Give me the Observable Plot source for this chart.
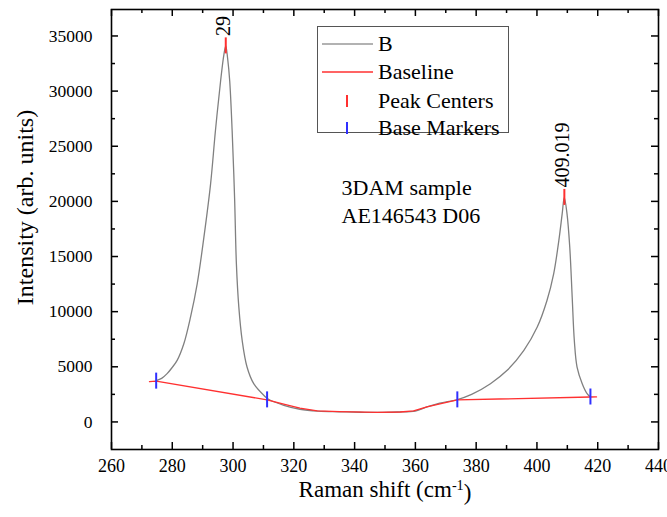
<!DOCTYPE html>
<html><head><meta charset="utf-8">
<script src="https://cdn.jsdelivr.net/npm/d3@7"></script>
<script src="https://cdn.jsdelivr.net/npm/@observablehq/plot@0.6"></script>
<style>
body{margin:0;background:#fff;}
#wrap{position:relative;width:667px;height:517px;font-family:"Liberation Serif","Times New Roman",Times,"Nimbus Roman","FreeSerif","Noto Serif","DejaVu Serif",serif;}
#wrap svg text{font-family:"Liberation Serif","Times New Roman",Times,"Nimbus Roman","FreeSerif","Noto Serif","DejaVu Serif",serif;}
.legend{position:absolute;left:317px;top:26px;width:192px;height:107px;border:1px solid #555;background:#fff;box-sizing:border-box;}
.row{position:absolute;left:0;height:28px;width:190px;font-size:22px;color:#000;}
.row svg{position:absolute;left:3px;top:0;}
.row span{position:absolute;left:60px;top:0;line-height:28px;white-space:nowrap;}
</style>
</head><body>
<div id="wrap"></div>
<script>
// Spectrum B
const bX = [274.7,276.5,278.3,280.0,281.6,283.8,286.0,288.2,290.4,292.6,294.2,295.9,297.0,297.6,298.2,298.9,299.7,300.5,301.1,301.9,303.0,304.6,306.8,310.1,311.8,316.7,322,328,335,342,348,354,360,363.8,368,373.8,378.5,384.7,390.2,395.7,400.1,403.3,405.5,407.2,408.3,409.0,409.9,410.8,411.6,412.3,413.2,414.9,416.5,417.6];
const bY = [3750,3950,4380,4950,5580,7090,9500,12520,16740,21570,26400,30920,33340,34100,33000,30920,26400,20360,14330,10410,7390,4980,3470,2420,2030,1510,1150,980,920,880,860,900,980,1360,1700,2030,2500,3470,4680,6490,8600,11010,13430,16440,18860,20360,18860,15840,11310,7390,4980,3470,2570,2260];
// Baseline
const baseX = [272.5,274.7,311.2,317,322,327.7,335,347.4,355,359.4,363.8,373.8,417.6,419.6];
const baseY = [3650,3700,2000,1600,1250,1000,930,860,900,1000,1360,2000,2260,2270];
// Peak centers
const peakX = [297.6,409.019];
const peakY = [34100,20360];
const peakLabels = ["29","409.019"];
// Base markers
const markX = [274.7,311.2,373.8,417.6];
const markY = [3700,2000,2000,2260];
// Ticks
const xMajor = [260,280,300,320,340,360,380,400,420,440];
const xMinor = [270,290,310,330,350,370,390,410,430];
const yMajor = [0,5000,10000,15000,20000,25000,30000,35000];
const yMinor = [2500,7500,12500,17500,22500,27500,32500];
const xDomain = [260,440];
const yDomain = [-2500,37400];
const xTitle = "Raman shift (cm-1)";
const yTitle = "Intensity (arb. units)";
const noteLines = ["3DAM sample","AE146543 D06"];
const noteX = [335.7];
const noteY = [18000];
const legendLabels = ["B","Baseline","Peak Centers","Base Markers"];
const legendKinds = ["line","line","tick","tick"];
const legendColors = ["#999999","#ff3030","#ff3030","#3030ff"];

const B = bX.map((x,i)=>({x,y:bY[i]}));
const base = baseX.map((x,i)=>({x,y:baseY[i]}));
const peaks = peakX.map((x,i)=>({x,y:peakY[i],label:peakLabels[i]}));
const marks = markX.map((x,i)=>({x,y:markY[i]}));

const W=667,H=517,mL=111,mR=9,mT=9,mB=68;
const fw=W-mL-mR, fh=H-mT-mB;
const FONT='"Liberation Serif", "Times New Roman", Times, "Nimbus Roman", FreeSerif, "Noto Serif", "DejaVu Serif", serif';

const plot = Plot.plot({
  width:W,height:H,marginLeft:mL,marginRight:mR,marginTop:mT,marginBottom:mB,
  style:{fontFamily:FONT,fontSize:"18px",color:"#000",background:"#fff",overflow:"visible"},
  x:{domain:xDomain},
  y:{domain:yDomain},
  marks:[
    Plot.line(B,{x:"x",y:"y",stroke:"#808080",strokeWidth:1.3,curve:"catmull-rom"}),
    Plot.line(base,{x:"x",y:"y",stroke:"#ff3030",strokeWidth:1.3}),
    Plot.ruleX(peaks,{x:"x",y1:"y",y2:"y",insetTop:-8,insetBottom:-8,stroke:"#ff3030",strokeWidth:2}),
    Plot.ruleX(marks,{x:"x",y1:"y",y2:"y",insetTop:-8,insetBottom:-8,stroke:"#3030ff",strokeWidth:2}),
    Plot.text(peaks,{x:"x",y:"y",text:"label",rotate:-90,textAnchor:"start",lineAnchor:"middle",dy:-10,dx:-2,fontSize:20,fill:"#000"}),
    Plot.text([noteLines.join("\n")],{x:noteX,y:noteY,text:d=>d,textAnchor:"start",lineAnchor:"bottom",lineHeight:1.27,fontSize:22,fill:"#000"}),
    Plot.ruleX(xMajor,{x:d=>d,insetTop:fh-7,stroke:"#000",strokeWidth:1.5}),
    Plot.ruleX(xMajor,{x:d=>d,insetBottom:fh-7,stroke:"#000",strokeWidth:1.5}),
    Plot.ruleX(xMinor,{x:d=>d,insetTop:fh-4,stroke:"#000",strokeWidth:1.5}),
    Plot.ruleX(xMinor,{x:d=>d,insetBottom:fh-4,stroke:"#000",strokeWidth:1.5}),
    Plot.ruleY(yMajor,{y:d=>d,insetRight:fw-7,stroke:"#000",strokeWidth:1.5}),
    Plot.ruleY(yMajor,{y:d=>d,insetLeft:fw-7,stroke:"#000",strokeWidth:1.5}),
    Plot.ruleY(yMinor,{y:d=>d,insetRight:fw-4,stroke:"#000",strokeWidth:1.5}),
    Plot.ruleY(yMinor,{y:d=>d,insetLeft:fw-4,stroke:"#000",strokeWidth:1.5}),
    Plot.frame({stroke:"#000",strokeWidth:1.6}),
    Plot.axisX({ticks:xMajor,tickSize:0,tickPadding:10,fontSize:18,label:null,tickFormat:d=>String(d)}),
    Plot.axisY({ticks:yMajor,tickSize:0,tickPadding:19,fontSize:17.5,label:null,tickFormat:d=>String(d)}),
    Plot.text([yTitle],{frameAnchor:"left",rotate:-90,textAnchor:"middle",dx:-86,dy:-22,fontSize:24,fill:"#000",text:d=>d}),
    Plot.text([xTitle],{frameAnchor:"bottom",dy:47,fontSize:23,fill:"#000",text:d=>d})
  ]
});
const wrap=document.getElementById("wrap");
wrap.appendChild(plot);
// superscript for the x title
d3.select(plot).selectAll("text").filter(function(){return this.textContent===xTitle;}).each(function(){
  const t=d3.select(this); t.text(null);
  t.append("tspan").text("Raman shift (cm");
  t.append("tspan").attr("dy","-0.45em").attr("font-size","0.62em").text("-1");
  t.append("tspan").attr("dy","0.45em").text(")");
});
// legend
const lg=document.createElement("div"); lg.className="legend"; wrap.appendChild(lg);
const centers=[17,45,74,101];
legendLabels.forEach((lab,i)=>{
  const r=document.createElement("div"); r.className="row"; r.style.top=(centers[i]-14)+"px";
  const svg=d3.create("svg").attr("width",53).attr("height",28);
  if(legendKinds[i]==="line") svg.append("line").attr("x1",1).attr("x2",52).attr("y1",14).attr("y2",14).attr("stroke",legendColors[i]).attr("stroke-width",1.5);
  else svg.append("line").attr("x1",26).attr("x2",26).attr("y1",8).attr("y2",20).attr("stroke",legendColors[i]).attr("stroke-width",2);
  r.appendChild(svg.node());
  const s=document.createElement("span"); s.textContent=lab; r.appendChild(s);
  lg.appendChild(r);
});
</script>
</body></html>
